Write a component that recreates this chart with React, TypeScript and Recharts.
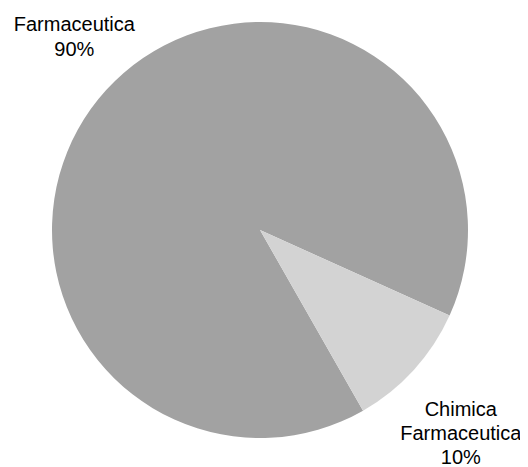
import React from "react";
import { PieChart, Pie, Cell } from "recharts";

const categories = ["Farmaceutica", "Chimica Farmaceutica"];
const values = [90, 10];
const valueLabels = ["90%", "10%"];

const sliceColors = ["#a2a2a2", "#d3d3d3"];
const labelLines: string[][] = [["Farmaceutica"], ["Chimica", "Farmaceutica"]];
// label placement styling: radial distance and vertical offset of first baseline
const labelStyle = [
  { radius: 251, dy: -29.6 },
  { radius: 271.5, dy: 3 },
];

const data = categories.map((name, i) => ({ name, value: values[i], pct: valueLabels[i], idx: i }));

const RADIAN = Math.PI / 180;

const renderLabel = (props: any) => {
  const { cx, cy, midAngle, index } = props;
  const st = labelStyle[index];
  const x = cx + st.radius * Math.cos(-midAngle * RADIAN);
  const y = cy + st.radius * Math.sin(-midAngle * RADIAN);
  const lines = [...labelLines[index], valueLabels[index]];
  return (
    <text
      x={x}
      y={y + st.dy}
      textAnchor="middle"
      fill="#000"
      fontSize={20}
      fontFamily="'Liberation Sans', Arial, sans-serif"
    >
      {lines.map((l, i) => (
        <tspan key={i} x={x} dy={i === 0 ? 0 : 24.3}>
          {l}
        </tspan>
      ))}
    </text>
  );
};

export default function App() {
  return (
    <div style={{ width: 520, height: 459 }}>
      <PieChart
        width={520}
        height={459}
        margin={{ top: 0, right: 0, bottom: 0, left: 0 }}
        style={{ overflow: "visible" }}
      >
        <Pie
          data={data}
          dataKey="value"
          nameKey="name"
          cx={252}
          cy={222}
          outerRadius={208}
          startAngle={-24.3}
          endAngle={335.7}
          stroke="none"
          label={renderLabel}
          labelLine={false}
          isAnimationActive={false}
        >
          {data.map((d, i) => (
            <Cell key={d.name} fill={sliceColors[i]} />
          ))}
        </Pie>
      </PieChart>
    </div>
  );
}
